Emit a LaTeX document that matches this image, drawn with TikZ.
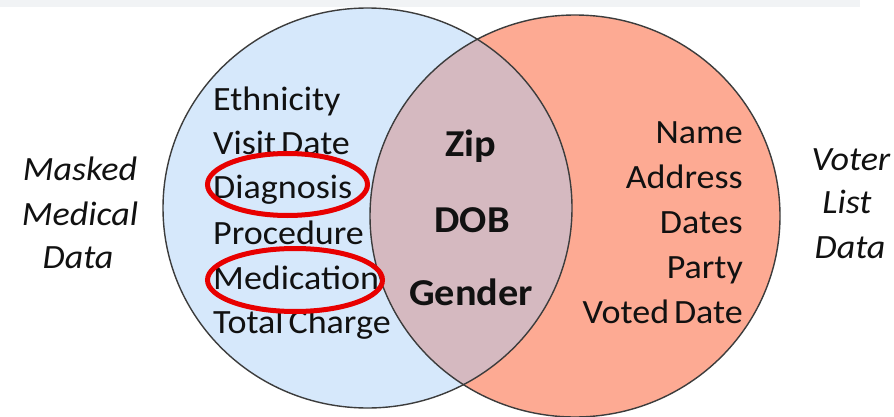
\documentclass[tikz,border=0pt]{standalone}
\usepackage{fontspec}
\setmainfont{Carlito}[FakeStretch=1.06, WordSpace=0.6]
\definecolor{medblue}{HTML}{D6E8FB}
\definecolor{votersalmon}{HTML}{FDAA93}
\definecolor{overlapmauve}{HTML}{D5B9C0}
\definecolor{rimgray}{HTML}{3C3C3C}
\definecolor{inkdark}{HTML}{111111}
\definecolor{markred}{HTML}{E80000}
\definecolor{stripgray}{HTML}{F1F3F5}
\tikzset{
  rim/.style={draw=rimgray, line width=1.4pt},
  item/.style={inner sep=0pt, text=inkdark, font=\fontsize{34}{40}\selectfont},
  keyitem/.style={inner sep=0pt, text=inkdark, font=\fontsize{38}{44}\selectfont\bfseries, anchor=base},
  sidelabel/.style={inner sep=0pt, text=inkdark, font=\fontsize{34}{40}\selectfont\itshape, anchor=base},
  circled/.style={draw=markred, line width=5pt},
}
\begin{document}
\begin{tikzpicture}[x=1pt, y=-1pt]
  \useasboundingbox (0,0) rectangle (894,417);
  \fill[white] (0,0) rectangle (894,417);
  \fill[stripgray] (0,0) rectangle (860,7);

  % the two data sets
  \fill[medblue] (367.5,208) ellipse [x radius=204.5, y radius=200];
  \fill[votersalmon] (575,216) ellipse [x radius=205, y radius=201];
  \begin{scope}
    \clip (367.5,208) ellipse [x radius=204.5, y radius=200];
    \fill[overlapmauve] (575,216) ellipse [x radius=205, y radius=201];
  \end{scope}
  \draw[rim] (367.5,208) ellipse [x radius=204.5, y radius=200];
  \draw[rim] (575,216) ellipse [x radius=205, y radius=201];

  % medical attributes
  \node[item, anchor=base west] (eth)  at (213,111) {Ethnicity};
  \node[item, anchor=base west] (vis)  at (213,154) {Visit Date};
  \node[item, anchor=base west] (diag) at (213,198) {Diagnosis};
  \node[item, anchor=base west] (proc) at (213,244) {Procedure};
  \node[item, anchor=base west] (med)  at (213,289) {Medication};
  \node[item, anchor=base west] (tot)  at (213,333) {Total Charge};

  % voter attributes
  \node[item, anchor=base east] (name)  at (743,144) {Name};
  \node[item, anchor=base east] (addr)  at (743,188) {Address};
  \node[item, anchor=base east] (dates) at (743,233) {Dates};
  \node[item, anchor=base east] (party) at (743,278) {Party};
  \node[item, anchor=base east] (voted) at (743,323) {Voted Date};

  % shared quasi-identifiers
  \node[keyitem] (zip) at (471,157) {Zip};
  \node[keyitem] (dob) at (472,232) {DOB};
  \node[keyitem] (gen) at (471,305) {Gender};

  % set names
  \node[sidelabel] (mask) at (80,180) {Masked};
  \node[sidelabel] (medi) at (80,225) {Medical};
  \node[sidelabel] (mdat) at (78,268) {Data};
  \node[sidelabel] (vot)  at (851,170) {Voter};
  \node[sidelabel] (lst)  at (847,213) {List};
  \node[sidelabel] (vdat) at (850,258) {Data};

  % sensitive fields
  \draw[circled] (287.5,184.5) ellipse [x radius=80, y radius=31];
  \draw[circled] (295,280) ellipse [x radius=87.5, y radius=31.5];
\end{tikzpicture}
\end{document}
